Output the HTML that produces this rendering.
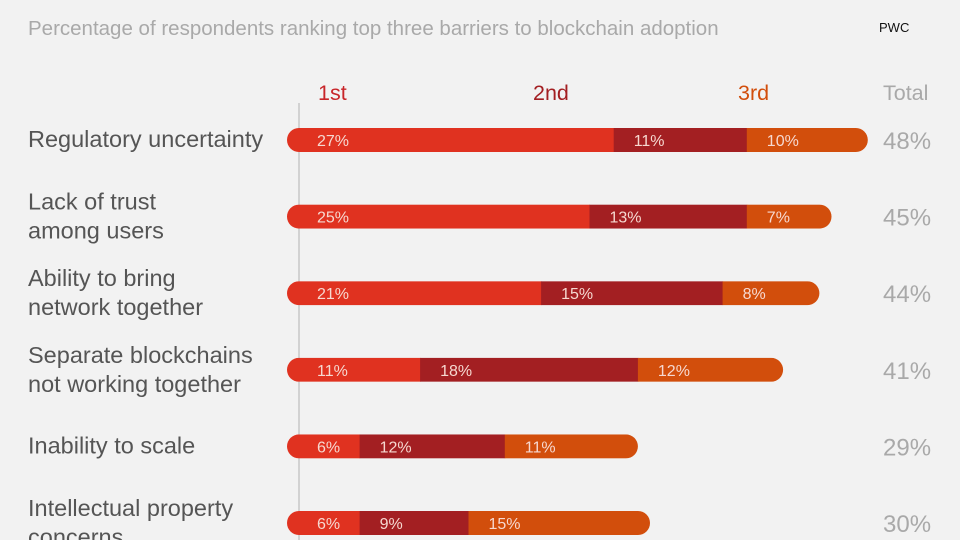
<!DOCTYPE html>
<html><head><meta charset="utf-8"><style>
body{margin:0;width:960px;height:540px;background:#f2f2f2;overflow:hidden;font-family:"Liberation Sans",sans-serif;position:relative}
.t{position:absolute;white-space:nowrap}
</style></head><body>
<div class="t" style="left:28px;top:17px;font-size:20.5px;color:#a9a9a9">Percentage of respondents ranking top three barriers to blockchain adoption</div>
<div class="t" style="left:879px;top:20px;font-size:13px;color:#111">PWC</div>
<svg id="c" width="960" height="540" style="position:absolute;left:0;top:0"></svg>
<script>
const categories=[["Regulatory uncertainty"],["Lack of trust","among users"],["Ability to bring","network together"],["Separate blockchains","not working together"],["Inability to scale"],["Intellectual property","concerns"]];
const first=[27,25,21,11,6,6];
const second=[11,13,15,18,12,9];
const third=[10,7,8,12,11,15];
const totals=[48,45,44,41,29,30];
const headers=["1st","2nd","3rd","Total"];
const colors=["#e03220","#a31f22","#d24e0c"];
const NS="http://www.w3.org/2000/svg";
const svg=document.getElementById('c');
const x0=287, pxPer=12.1;
function xs(v){return v*pxPer;}
function yc(i){return 140+i*76.6;}
function mk(tag,attrs){const e=document.createElementNS(NS,tag);for(const k in attrs)e.setAttribute(k,attrs[k]);svg.appendChild(e);return e;}
const axis=mk('line',{x1:299,y1:103,x2:299,y2:540,stroke:'#c8c8c8','stroke-width':1.5});


const hx=[318,533,738,883],hc=["#c8262a","#a31f22","#d24e0c","#a9a9a9"];
headers.forEach((h,i)=>{const t=mk('text',{x:hx[i],y:100,'font-size':21.5,fill:hc[i],'font-family':'Liberation Sans'});t.textContent=h;

});
categories.forEach((lines,i)=>{
  const y=yc(i);
  const g=document.createElementNS(NS,'g');svg.appendChild(g);
  
  
  const vals=[first[i],second[i],third[i]];
  const total=vals.reduce((a,b)=>a+b,0);
  const clipId='cl'+i;
  const cp=document.createElementNS(NS,'clipPath');cp.setAttribute('id',clipId);
  const r=document.createElementNS(NS,'rect');r.setAttribute('x',x0);r.setAttribute('y',y-12);r.setAttribute('width',xs(total));r.setAttribute('height',24);r.setAttribute('rx',12);
  cp.appendChild(r);svg.appendChild(cp);
  let x=x0;
  vals.forEach((v,j)=>{
    const w=xs(v);
    const s=document.createElementNS(NS,'rect');
    s.setAttribute('x',x);s.setAttribute('y',y-12);s.setAttribute('width',w+0.5);s.setAttribute('height',24);s.setAttribute('fill',colors[j]);s.setAttribute('clip-path','url(#'+clipId+')');
    
    
    g.appendChild(s);
    const t=document.createElementNS(NS,'text');
    t.setAttribute('x',x+(j==0?30:20));t.setAttribute('y',y+6);t.setAttribute('font-size',16);t.setAttribute('fill','#f6d8d0');t.setAttribute('font-family','Liberation Sans');
    t.textContent=v+'%';
    
    
    g.appendChild(t);
    x+=w;
  });
  const tt=mk('text',{x:883,y:y+9,'font-size':24,fill:'#a9a9a9','font-family':'Liberation Sans'});tt.textContent=totals[i]+'%';
  
  
  const n=lines.length;
  lines.forEach((l,k)=>{
    const lt=mk('text',{x:28,y:n==1?y+7:y-7+k*29,'font-size':23.5,fill:'#555','font-family':'Liberation Sans'});
    lt.textContent=l;
    
    
  });
});
</script>
</body></html>
